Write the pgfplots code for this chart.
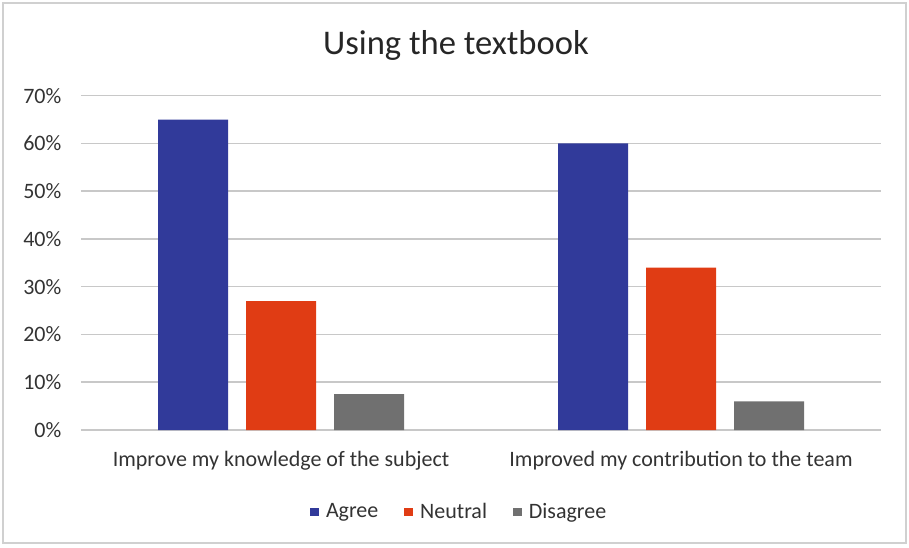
\documentclass[border=0pt]{standalone}
\usepackage{pgfplots}
\pgfplotsset{compat=1.18}
\usepackage{fontspec}
\setmainfont{Carlito}
\definecolor{agree}{HTML}{313A9A}
\definecolor{neutral}{HTML}{E03C14}
\definecolor{disagree}{HTML}{707070}
\definecolor{gridc}{HTML}{C8C8C8}
\definecolor{framec}{HTML}{D0D0D0}
\begin{document}
\begin{tikzpicture}
\path[use as bounding box] (-40.5pt,-58.5pt) rectangle (414pt,215pt);
\draw[framec, line width=0.8pt] (-39pt,-56.5pt) rectangle (412.5pt,213.5pt);
\node[font=\fontsize{17.3}{20}\selectfont, text=black!85] at (187.5pt,192.5pt) {Using the textbook};
\begin{axis}[
  at={(0pt,0pt)}, anchor=south west,
  scale only axis, width=400pt, height=167.2pt,
  xmin=-0.5, xmax=1.5, ymin=0, ymax=70,
  ybar=9pt, bar width=35pt,
  axis line style={draw=none},
  major tick length=0pt,
  ymajorgrids, grid style={gridc, line width=0.8pt},
  ytick={0,10,20,30,40,50,60,70},
  yticklabel={\pgfmathprintnumber{\tick}\%},
  /pgf/number format/assume math mode=true,
  xtick={0,1},
  xticklabels={Improve my knowledge of the subject, Improved my contribution to the team},
  tick label style={font=\fontsize{11}{13}\selectfont, text=black!80},
  yticklabel style={xshift=-6.3pt},
  xticklabel style={yshift=-7pt},
  legend columns=3,
  legend style={at={(0.474,-0.245)}, anchor=center, draw=none,
    font=\fontsize{11}{13}\selectfont, text=black!80,
    /tikz/every even column/.append style={column sep=11pt},
    /tikz/every odd column/.append style={column sep=1.5pt}},
  legend image code/.code={\fill[#1] (0pt,-2.2pt) rectangle (4.4pt,2.2pt);},
]
\addplot[fill=agree, draw=none] coordinates {(0,65) (1,60)};
\addplot[fill=neutral, draw=none] coordinates {(0,27) (1,34)};
\addplot[fill=disagree, draw=none] coordinates {(0,7.5) (1,6)};
\legend{Agree, Neutral, Disagree}
\end{axis}
\end{tikzpicture}
\end{document}
